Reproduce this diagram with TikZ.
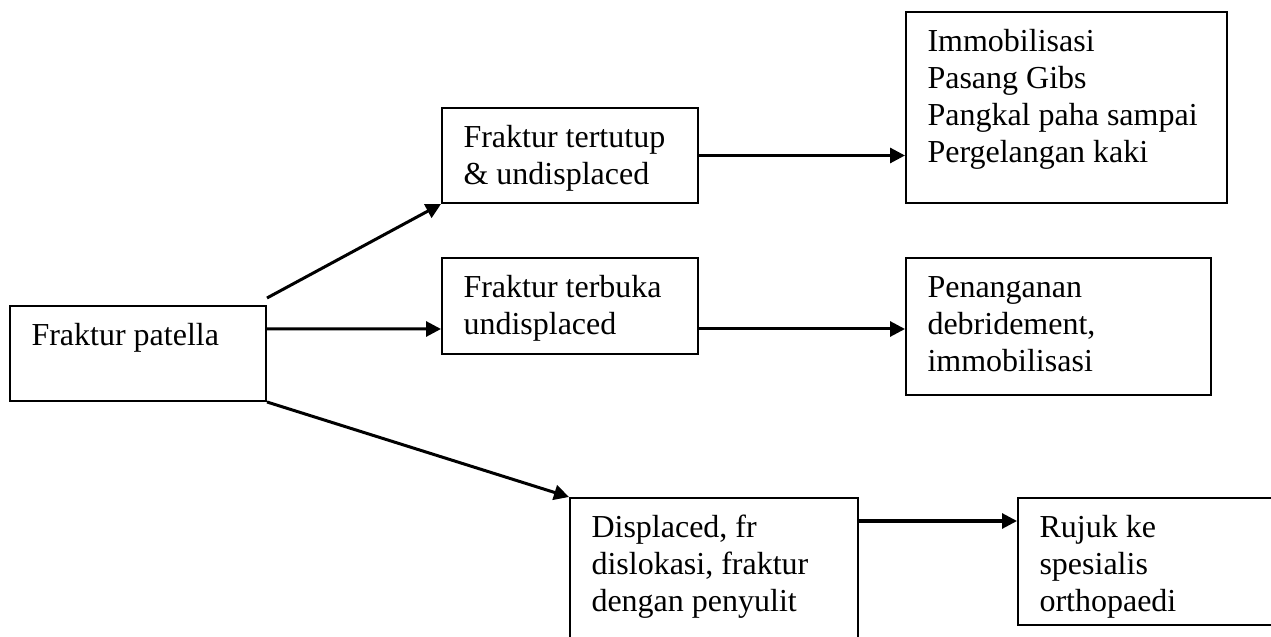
\documentclass[tikz,border=0pt]{standalone}
\usepackage{fontspec}
\setmainfont{Liberation Serif}
\usepackage{tikz}
\usetikzlibrary{arrows.meta, positioning}
\newcommand{\boxtext}[3]{\parbox[t][#2][t]{#1}{\raggedright\strut#3}}

\begin{document}
\begin{tikzpicture}[x=0.4pt, y=-0.4pt,
    stepbox/.style={rectangle, draw, line width=0.8pt, anchor=north west, inner xsep=8.6pt, inner ysep=5.6pt, font=\fontsize{12.8pt}{14.8pt}\selectfont},
    arr/.style={-{Triangle[length=6pt, width=6pt]}, line width=1.2pt}]

  \useasboundingbox (0,0) rectangle (1271,637);
  \clip (0,0) rectangle (1271,637);

  % Start
  \node[stepbox] (patella) at (9,305)
    {\boxtext{85.2pt}{26.8pt}{Fraktur patella}};

  % Middle column
  \node[stepbox] (tertutup) at (441,107)
    {\boxtext{85.2pt}{26.8pt}{Fraktur tertutup\\\& undisplaced}};
  \node[stepbox] (terbuka) at (441,257)
    {\boxtext{85.2pt}{27.2pt}{Fraktur terbuka\\undisplaced}};
  \node[stepbox] (displaced) at (569,497)
    {\boxtext{98pt}{52.8pt}{Displaced, fr\\dislokasi, fraktur\\dengan penyulit}};

  % Treatment
  \node[stepbox] (immob) at (905,11)
    {\boxtext{111.2pt}{65.2pt}{Immobilisasi\\Pasang Gibs\\Pangkal paha sampai\\Pergelangan kaki}};
  \node[stepbox] (penang) at (905,257)
    {\boxtext{104.8pt}{43.6pt}{Penanganan\\debridement,\\immobilisasi}};
  \node[stepbox] (rujuk) at (1017,497)
    {\boxtext{92pt}{39.6pt}{Rujuk ke\\spesialis\\orthopaedi}};

  \draw[arr] ([yshift=2.8pt]patella.north east) -- (tertutup.south west);
  \draw[arr] ([yshift=-9.6pt]patella.north east) -- ([yshift=-28.8pt]terbuka.north west);
  \draw[arr] (patella.south east) -- (displaced.north west);
  \draw[arr] (tertutup.east) -- (tertutup.east -| immob.west);
  \draw[arr] ([yshift=-28.8pt]terbuka.north east) -- ([yshift=-28.8pt]penang.north west);
  \draw[arr] ([yshift=-9.6pt]displaced.north east) -- ([yshift=-9.6pt]rujuk.north west);
\end{tikzpicture}
\end{document}
